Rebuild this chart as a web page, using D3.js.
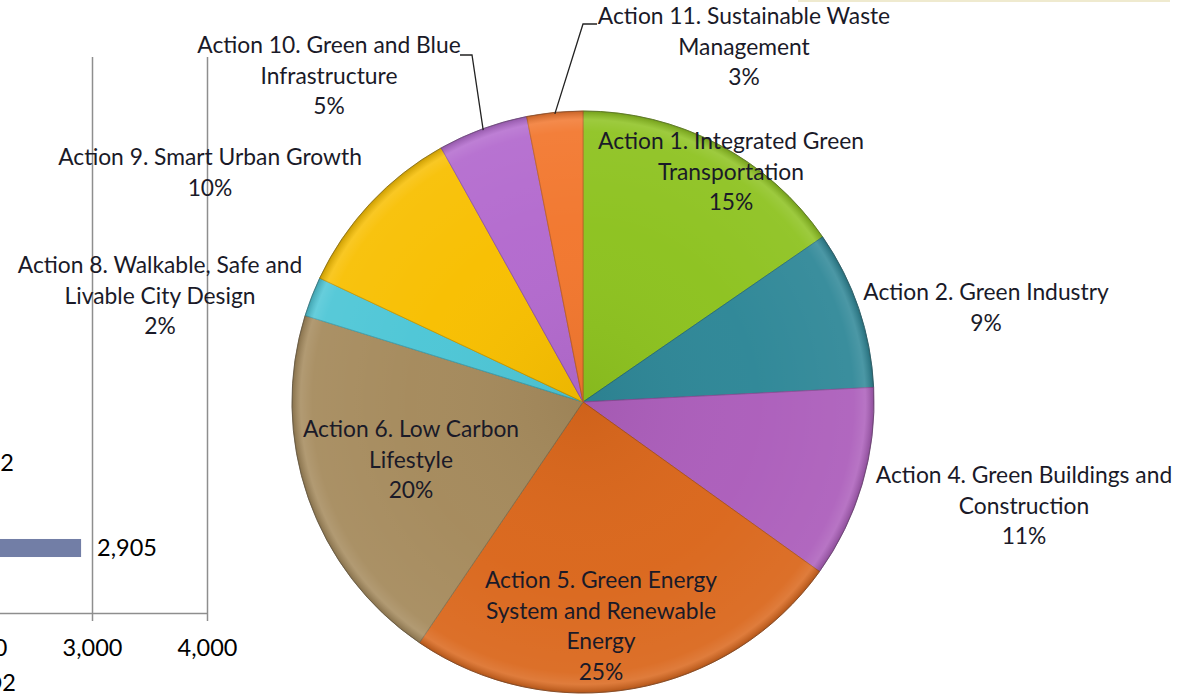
<!DOCTYPE html>
<html><head><meta charset="utf-8">
<script src="https://cdn.jsdelivr.net/npm/d3@7"></script>
<style>
html,body{margin:0;padding:0;background:#fff;overflow:hidden;}
svg{display:block;}
</style></head>
<body>
<svg id="chart" width="1188" height="695"></svg>
<script>
// ---- Pie data (share of reduction by action, %) ----
const actions = [
  ["Action 1. Integrated Green", "Transportation"],
  ["Action 2. Green Industry"],
  ["Action 4. Green Buildings and", "Construction"],
  ["Action 5. Green Energy", "System and Renewable", "Energy"],
  ["Action 6. Low Carbon", "Lifestyle"],
  ["Action 8. Walkable, Safe and", "Livable City Design"],
  ["Action 9. Smart Urban Growth"],
  ["Action 10. Green and Blue", "Infrastructure"],
  ["Action 11. Sustainable Waste", "Management"]
];
const shares = [15.4, 8.8, 10.7, 24.6, 20.3, 2.2, 9.9, 5.0, 3.1];
const sliceColors = ["#8DC21F", "#2E8797", "#AC5EBB", "#DA671C", "#A58A5C", "#4DC6D6", "#F8BF00", "#B36ACE", "#F2772E"];

// ---- Background bar chart (partially visible) ----
const barCategories = ["A", "B"];
const barValues = [1662, 2905];
const barLabels = ["1,662", "2,905"];
const barTicks = [2000, 3000, 4000];
const barAxisTitle = "ktCO2";

// ---- Layout (label anchors relative to pie centre: x centre, first baseline) ----
const labelPos = [
  [148, -253], [403, -102], [441, 81], [18, 186], [-172, 35],
  [-423, -129], [-373, -237], [-254, -349], [161, -378]
];
const leaderLines = { 7: [[-123, -347], [-111, -347]], 8: [[14, -378], [0, -378]] };

const svg = d3.select("#chart");
const cx = 583, cy = 402, R = 291;

// faint slide border line at top right
svg.append("line").attr("x1", 798).attr("x2", 1170).attr("y1", 1).attr("y2", 1)
  .attr("stroke", "#efeacf").attr("stroke-width", 2);

// ---- Bar chart ----
const x = d3.scaleLinear().domain([2000, 4000]).range([-23, 207]);
const gridTop = 57, axisY = 613;
const yBand = d3.scaleBand().domain(barCategories).range([420.5, 590.5]).paddingInner(0.788).paddingOuter(0.394);
const gBar = svg.append("g");
gBar.selectAll("line.grid").data(barTicks.filter(t => t > 2000)).join("line")
  .attr("class", "grid")
  .attr("x1", d => Math.round(x(d)) + 0.5).attr("x2", d => Math.round(x(d)) + 0.5)
  .attr("y1", gridTop).attr("y2", axisY)
  .attr("stroke", "#8e8e8e").attr("stroke-width", 1.5);
const axis = d3.axisBottom(x).tickValues(barTicks).tickFormat(d3.format(",")).tickSize(8).tickPadding(18);
const gAx = gBar.append("g").attr("transform", `translate(0,${axisY})`).call(axis);
gAx.select(".domain").attr("stroke", "#8e8e8e").attr("stroke-width", 1.5).attr("d", `M${x(1500)},0.5H${x(4000)+0.5}`);
gAx.selectAll(".tick line").attr("stroke", "#8e8e8e").attr("stroke-width", 1.5);
gAx.selectAll(".tick text").attr("fill", "#000").style("font-family", "Lato, sans-serif").style("font-size", "23.5px");
const bx0 = -300;
gBar.selectAll("rect.bar").data(barValues).join("rect")
  .attr("class", "bar")
  .attr("x", bx0).attr("y", (d, i) => yBand(barCategories[i]))
  .attr("width", d => x(d) - bx0).attr("height", yBand.bandwidth())
  .attr("fill", "#727ea6");
gBar.selectAll("text.blab").data(barValues).join("text")
  .attr("class", "blab")
  .attr("x", d => x(d) + 16).attr("y", (d, i) => yBand(barCategories[i]) + yBand.bandwidth() / 2 + 8)
  .attr("fill", "#000").style("font-family", "Lato, sans-serif").style("font-size", "23.5px")
  .text((d, i) => barLabels[i]);
gBar.append("text").attr("x", 16).attr("y", 691).attr("text-anchor", "end")
  .attr("fill", "#000").style("font-family", "Lato, sans-serif").style("font-size", "23.5px")
  .text(barAxisTitle);

// ---- Pie ----
const pie = d3.pie().sort(null).value(d => d)(shares);
const arc = d3.arc().innerRadius(0).outerRadius(R);
const gp = svg.append("g").attr("transform", `translate(${cx},${cy})`);
const defs = svg.append("defs");
const rg = defs.append("radialGradient").attr("id", "shade").attr("gradientUnits", "userSpaceOnUse")
  .attr("cx", 0).attr("cy", 0).attr("r", R);
rg.append("stop").attr("offset", "0").attr("stop-color", "#000").attr("stop-opacity", 0.05);
rg.append("stop").attr("offset", "0.6").attr("stop-color", "#fff").attr("stop-opacity", 0.02);
rg.append("stop").attr("offset", "0.93").attr("stop-color", "#fff").attr("stop-opacity", 0.06);
rg.append("stop").attr("offset", "0.97").attr("stop-color", "#fff").attr("stop-opacity", 0.14);
rg.append("stop").attr("offset", "1").attr("stop-color", "#000").attr("stop-opacity", 0.18);

gp.selectAll("path.slice").data(pie).join("path")
  .attr("class", "slice")
  .attr("d", arc)
  .attr("fill", (d, i) => sliceColors[i])
  .attr("stroke", (d, i) => d3.color(sliceColors[i]).darker(0.6))
  .attr("stroke-width", 1);
gp.append("circle").attr("r", R).attr("fill", "url(#shade)").attr("pointer-events", "none");
gp.append("circle").attr("r", R).attr("fill", "none").attr("stroke", "#555").attr("stroke-opacity", 0.35).attr("stroke-width", 1);

// leader lines
Object.entries(leaderLines).forEach(([k, pts]) => {
  const d = pie[+k];
  const mid = (d.startAngle + d.endAngle) / 2;
  const edge = [Math.sin(mid) * R * 0.995, -Math.cos(mid) * R * 0.995];
  gp.append("path").attr("d", d3.line()([...pts, edge]))
    .attr("fill", "none").attr("stroke", "#222").attr("stroke-width", 1.3);
});

// labels
const pct = d3.format(".0%");
const lineH = 30.6;
pie.forEach((d, i) => {
  const lines = [...actions[i], pct(shares[i] / 100)];
  const t = gp.append("text")
    .attr("text-anchor", "middle")
    .attr("fill", "#1a1a28")
    .style("font-family", "Lato, sans-serif")
    .style("font-size", "22.8px");
  lines.forEach((ln, j) => {
    t.append("tspan").attr("x", labelPos[i][0]).attr("y", labelPos[i][1] + j * lineH).text(ln);
  });
});
</script>
</body></html>
